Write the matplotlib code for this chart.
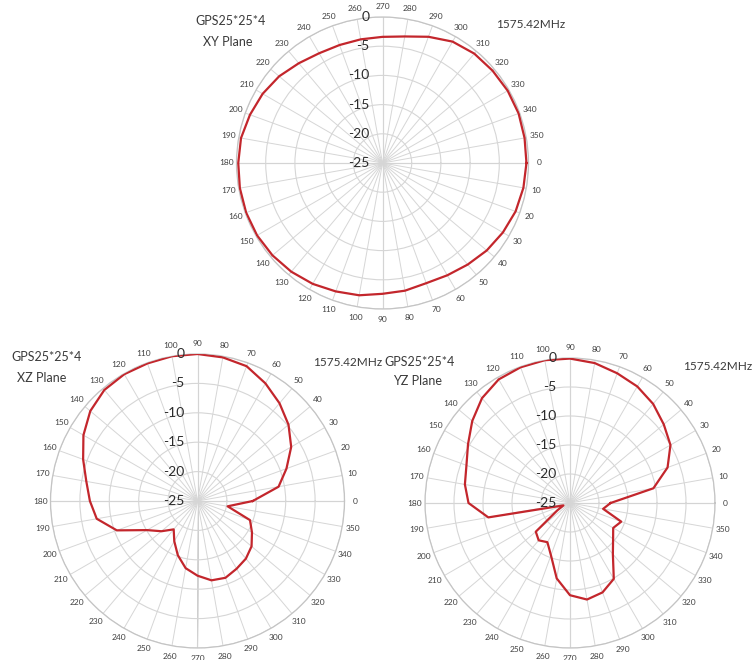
import numpy as np
import matplotlib
matplotlib.use('Agg')
import matplotlib.pyplot as plt

# ---------------- data ----------------
angles_deg = list(range(0, 360, 10))
angle_labels = [str(a) for a in angles_deg]
r_ticks = [0, -5, -10, -15, -20, -25]
r_tick_labels = ['0', '-5', '-10', '-15', '-20', '-25']

# XY plane (angles run clockwise, 0 at right)
xy_db = [-0.35, -0.5, -0.75, -1.2, -1.7, -2.3, -2.8, -3.1, -2.8, -2.6,
         -2.0, -1.6, -1.1, -0.7, -0.4, -0.2, -0.15, -0.2, -0.3, -0.4,
         -0.85, -1.3, -1.9, -2.7, -3.3, -3.5, -3.5, -3.4, -3.0, -2.0,
         -1.0, -0.55, -0.4, -0.25, -0.2, -0.3]

# XZ plane (angles run counter-clockwise, 0 at right)
xz_db = [-15.6, -11.0, -8.9, -6.6, -4.8, -3.3, -1.9, -0.6, -0.2, 0.0,
         0.0, -0.1, -0.1, -0.35, -1.2, -2.6, -4.3, -5.8, -6.7, -7.6,
         -10.4, -15.1, -17.0, -18.7, -17.1, -15.2, -13.4, -12.3, -11.3, -11.1,
         -11.7, -12.2, -13.0, -14.3, -15.5, -19.8]

# YZ plane (angles run counter-clockwise, 0 at right)
yz_db = [-18.0, -10.4, -7.1, -5.0, -3.9, -2.7, -1.8, -1.2, -0.5, -0.1,
         0.0, -0.1, -0.4, -1.4, -3.0, -4.7, -6.0, -6.6, -7.5, -10.7,
         -23.8, -22.5, -17.3, -16.6, -17.2, -15.4, -11.8, -9.1, -8.1, -8.6,
         -9.9, -13.5, -15.3, -16.4, -15.6, -19.2]

title_line1 = 'GPS25*25*4'
plane_names = ['XY Plane', 'XZ Plane', 'YZ Plane']
freq_label = '1575.42MHz'

# ---------------- style ----------------
plt.rcParams['font.family'] = ['Lato', 'DejaVu Sans']

W, H = 753, 660
fig = plt.figure(figsize=(W / 100, H / 100), dpi=100)
fig.patch.set_facecolor('white')

GRID = '#d6d6d6'
AXIS = '#a8a8a8'
RED = '#c3262c'
LBL = '#404040'


def make_polar(cx, cy, R, values, clockwise):
    rect = [(cx - R) / W, (H - cy - R) / H, 2 * R / W, 2 * R / H]
    ax = fig.add_axes(rect, projection='polar')
    ax.set_facecolor('none')
    ax.set_theta_zero_location('E')
    ax.set_theta_direction(-1 if clockwise else 1)
    ax.set_ylim(-25, 0)
    ax.set_yticks(r_ticks[:-1])
    ax.set_yticklabels([])
    ax.yaxis.grid(True, color=GRID, lw=0.8)
    ax.set_xticks(np.deg2rad(angles_deg))
    ax.set_xticklabels(angle_labels, fontsize=6, color=LBL)
    ax.xaxis.grid(True, color=GRID, lw=0.7)
    ax.tick_params(axis='x', length=0, pad=0.5)
    ax.spines['polar'].set_color('#c4c4c4')
    ax.spines['polar'].set_linewidth(0.9)
    for t in [0, 90, 180, 270]:
        ax.plot([np.deg2rad(t), np.deg2rad(t)], [-25, 0], color=AXIS,
                lw=0.8, zorder=1.5)
    th = np.deg2rad(angles_deg + [angles_deg[0]])
    rv = list(values) + [values[0]]
    ax.plot(th, rv, color=RED, lw=1.6, zorder=3, solid_joinstyle='round')
    up = np.deg2rad(270 if clockwise else 90)
    for r, lab in zip(r_ticks, r_tick_labels):
        ax.annotate(lab, xy=(up, r), xytext=(-9.5, 0),
                    textcoords='offset points', ha='right', va='center',
                    fontsize=10, color='#2b2b2b', annotation_clip=False,
                    zorder=4)
    return ax


make_polar(382.5, 163, 146, xy_db, clockwise=True)
make_polar(197.5, 501, 147, xz_db, clockwise=False)
make_polar(570, 503, 145, yz_db, clockwise=False)

TXT = '#3a3a3a'


def ftext(x, y, s, size=9):
    fig.text(x / W, 1 - y / H, s, ha='center', va='center', fontsize=size,
             color=TXT)


ftext(231, 21, title_line1)
ftext(228, 42, plane_names[0])
ftext(531, 25, freq_label, 8.5)

ftext(47, 357, title_line1)
ftext(42, 378, plane_names[1])
ftext(348, 362, freq_label, 8.5)

ftext(420, 362, title_line1)
ftext(418, 381, plane_names[2])
ftext(718, 367, freq_label, 8.5)

fig.savefig('out.png', dpi=100, facecolor='white')
